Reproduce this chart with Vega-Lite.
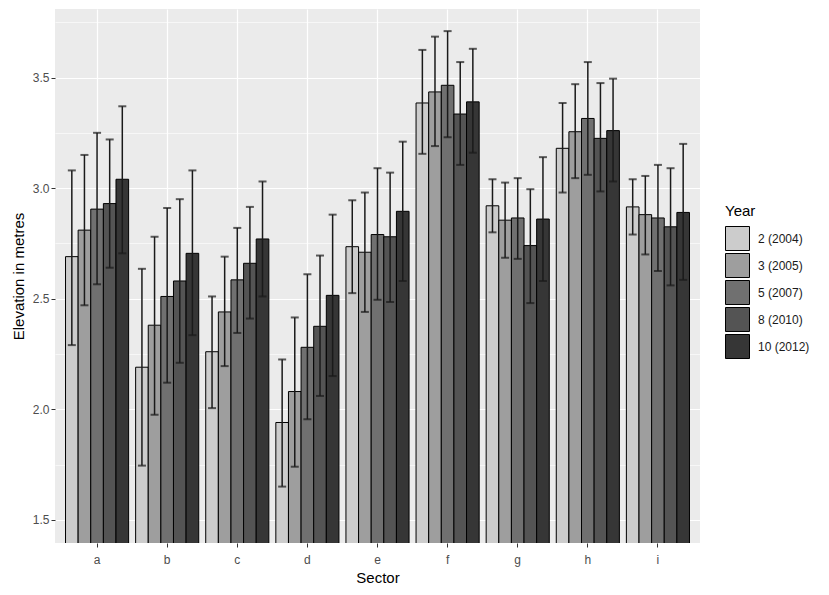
{
  "$schema": "https://vega.github.io/schema/vega-lite/v6.json",
  "width": 645,
  "height": 534,
  "autosize": {"type": "none"},
  "padding": {"left": 55, "top": 9, "right": 129, "bottom": 52},
  "background": "white",
  "data": {
    "values": [
      {"sector": "a", "year": "2 (2004)", "mean": 2.69, "lo": 2.29, "hi": 3.08},
      {"sector": "a", "year": "3 (2005)", "mean": 2.81, "lo": 2.47, "hi": 3.15},
      {"sector": "a", "year": "5 (2007)", "mean": 2.905, "lo": 2.565, "hi": 3.25},
      {"sector": "a", "year": "8 (2010)", "mean": 2.93, "lo": 2.64, "hi": 3.22},
      {"sector": "a", "year": "10 (2012)", "mean": 3.04, "lo": 2.705, "hi": 3.37},
      {"sector": "b", "year": "2 (2004)", "mean": 2.19, "lo": 1.745, "hi": 2.635},
      {"sector": "b", "year": "3 (2005)", "mean": 2.38, "lo": 1.975, "hi": 2.78},
      {"sector": "b", "year": "5 (2007)", "mean": 2.51, "lo": 2.12, "hi": 2.91},
      {"sector": "b", "year": "8 (2010)", "mean": 2.58, "lo": 2.21, "hi": 2.95},
      {"sector": "b", "year": "10 (2012)", "mean": 2.705, "lo": 2.335, "hi": 3.08},
      {"sector": "c", "year": "2 (2004)", "mean": 2.26, "lo": 2.005, "hi": 2.51},
      {"sector": "c", "year": "3 (2005)", "mean": 2.44, "lo": 2.195, "hi": 2.69},
      {"sector": "c", "year": "5 (2007)", "mean": 2.585, "lo": 2.345, "hi": 2.82},
      {"sector": "c", "year": "8 (2010)", "mean": 2.66, "lo": 2.41, "hi": 2.915},
      {"sector": "c", "year": "10 (2012)", "mean": 2.77, "lo": 2.51, "hi": 3.03},
      {"sector": "d", "year": "2 (2004)", "mean": 1.94, "lo": 1.65, "hi": 2.225},
      {"sector": "d", "year": "3 (2005)", "mean": 2.08, "lo": 1.74, "hi": 2.415},
      {"sector": "d", "year": "5 (2007)", "mean": 2.28, "lo": 1.955, "hi": 2.61},
      {"sector": "d", "year": "8 (2010)", "mean": 2.375, "lo": 2.06, "hi": 2.695},
      {"sector": "d", "year": "10 (2012)", "mean": 2.515, "lo": 2.15, "hi": 2.88},
      {"sector": "e", "year": "2 (2004)", "mean": 2.735, "lo": 2.525, "hi": 2.945},
      {"sector": "e", "year": "3 (2005)", "mean": 2.71, "lo": 2.44, "hi": 2.98},
      {"sector": "e", "year": "5 (2007)", "mean": 2.79, "lo": 2.495, "hi": 3.09},
      {"sector": "e", "year": "8 (2010)", "mean": 2.78, "lo": 2.485, "hi": 3.07},
      {"sector": "e", "year": "10 (2012)", "mean": 2.895, "lo": 2.58, "hi": 3.21},
      {"sector": "f", "year": "2 (2004)", "mean": 3.385, "lo": 3.155, "hi": 3.625},
      {"sector": "f", "year": "3 (2005)", "mean": 3.435, "lo": 3.19, "hi": 3.685},
      {"sector": "f", "year": "5 (2007)", "mean": 3.465, "lo": 3.23, "hi": 3.71},
      {"sector": "f", "year": "8 (2010)", "mean": 3.335, "lo": 3.105, "hi": 3.57},
      {"sector": "f", "year": "10 (2012)", "mean": 3.39, "lo": 3.16, "hi": 3.63},
      {"sector": "g", "year": "2 (2004)", "mean": 2.92, "lo": 2.8, "hi": 3.04},
      {"sector": "g", "year": "3 (2005)", "mean": 2.855, "lo": 2.685, "hi": 3.025},
      {"sector": "g", "year": "5 (2007)", "mean": 2.865, "lo": 2.68, "hi": 3.045},
      {"sector": "g", "year": "8 (2010)", "mean": 2.74, "lo": 2.48, "hi": 2.995},
      {"sector": "g", "year": "10 (2012)", "mean": 2.86, "lo": 2.58, "hi": 3.14},
      {"sector": "h", "year": "2 (2004)", "mean": 3.18, "lo": 2.98, "hi": 3.385},
      {"sector": "h", "year": "3 (2005)", "mean": 3.255, "lo": 3.045, "hi": 3.47},
      {"sector": "h", "year": "5 (2007)", "mean": 3.315, "lo": 3.06, "hi": 3.57},
      {"sector": "h", "year": "8 (2010)", "mean": 3.225, "lo": 2.985, "hi": 3.475},
      {"sector": "h", "year": "10 (2012)", "mean": 3.26, "lo": 3.03, "hi": 3.495},
      {"sector": "i", "year": "2 (2004)", "mean": 2.915, "lo": 2.79, "hi": 3.04},
      {"sector": "i", "year": "3 (2005)", "mean": 2.88, "lo": 2.7, "hi": 3.055},
      {"sector": "i", "year": "5 (2007)", "mean": 2.865, "lo": 2.625, "hi": 3.105},
      {"sector": "i", "year": "8 (2010)", "mean": 2.825, "lo": 2.56, "hi": 3.09},
      {"sector": "i", "year": "10 (2012)", "mean": 2.89, "lo": 2.585, "hi": 3.2}
    ]
  },
  "encoding": {
    "x": {
      "field": "sector",
      "type": "nominal",
      "title": "Sector",
      "scale": {"paddingInner": 0.1, "paddingOuter": 0.15},
      "axis": {
        "labelAngle": 0,
        "grid": true,
        "bandPosition": 0.5,
        "labelPadding": 7,
        "titlePadding": 5
      }
    },
    "xOffset": {
      "field": "year",
      "type": "nominal",
      "sort": ["2 (2004)", "3 (2005)", "5 (2007)", "8 (2010)", "10 (2012)"],
      "scale": {"paddingInner": 0, "paddingOuter": 0}
    }
  },
  "layer": [
    {
      "mark": {"type": "bar", "stroke": "black", "strokeWidth": 1, "clip": true},
      "encoding": {
        "y": {
          "field": "mean",
          "type": "quantitative",
          "title": "Elevation in metres",
          "scale": {"domain": [1.395, 3.81], "zero": false, "nice": false},
          "axis": {
            "values": [1.5, 2.0, 2.5, 3.0, 3.5],
            "format": ".1f",
            "grid": true,
            "titlePadding": 6
          }
        },
        "fill": {
          "field": "year",
          "type": "nominal",
          "title": "Year",
          "sort": ["2 (2004)", "3 (2005)", "5 (2007)", "8 (2010)", "10 (2012)"],
          "scale": {
            "domain": ["2 (2004)", "3 (2005)", "5 (2007)", "8 (2010)", "10 (2012)"],
            "range": ["#CCCCCC", "#9E9E9E", "#707070", "#545454", "#363636"]
          },
          "legend": {
            "orient": "none",
            "legendX": 670,
            "legendY": 195,
            "symbolType": "square",
            "symbolSize": 576,
            "symbolStrokeColor": "black",
            "symbolStrokeWidth": 1,
            "rowPadding": -4,
            "labelOffset": 8,
            "titlePadding": 7
          }
        }
      }
    },
    {
      "mark": {"type": "rule", "color": "#1a1a1a", "strokeWidth": 1.5, "clip": true},
      "encoding": {
        "y": {
          "field": "lo",
          "type": "quantitative",
          "axis": {
            "orient": "right",
            "values": [1.75, 2.25, 2.75, 3.25, 3.75],
            "grid": true,
            "gridWidth": 0.6,
            "labels": false,
            "ticks": false,
            "domain": false,
            "title": null
          }
        },
        "y2": {"field": "hi"}
      }
    },
    {
      "mark": {"type": "tick", "color": "#1a1a1a", "size": 8, "thickness": 2, "clip": true},
      "encoding": {
        "y": {"field": "lo", "type": "quantitative", "axis": null}
      }
    },
    {
      "mark": {"type": "tick", "color": "#1a1a1a", "size": 8, "thickness": 2, "clip": true},
      "encoding": {
        "y": {"field": "hi", "type": "quantitative", "axis": null}
      }
    }
  ],
  "resolve": {"axis": {"y": "independent"}},
  "config": {
    "font": "Liberation Sans",
    "view": {"fill": "#EBEBEB", "stroke": null},
    "axis": {
      "domain": false,
      "tickColor": "#333333",
      "tickSize": 4,
      "tickWidth": 1,
      "labelColor": "#4D4D4D",
      "labelFontSize": 12,
      "labelPadding": 2,
      "titleColor": "black",
      "titleFontSize": 15,
      "titleFontWeight": "normal",
      "gridColor": "white",
      "gridWidth": 1.2,
      "gridOpacity": 1
    },
    "legend": {
      "titleFontSize": 15,
      "titleFontWeight": "normal",
      "titleColor": "black",
      "labelFontSize": 12,
      "labelColor": "#1a1a1a"
    }
  }
}
